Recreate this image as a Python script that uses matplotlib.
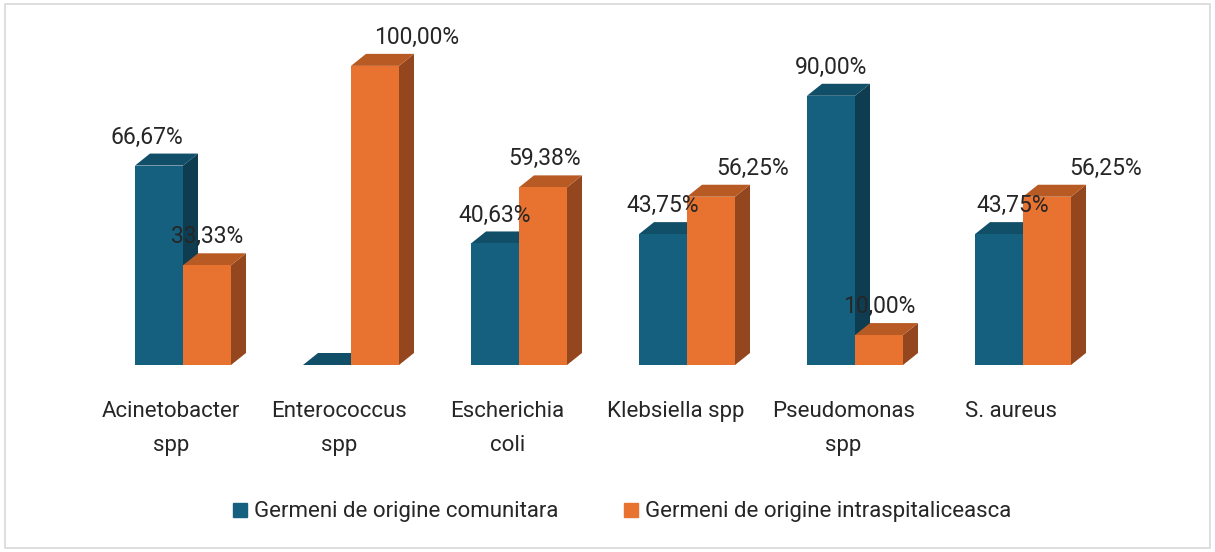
import numpy as np
import matplotlib.pyplot as plt
from matplotlib.patches import Polygon, Rectangle
from matplotlib.lines import Line2D

plt.rcParams['font.family'] = ['Roboto', 'DejaVu Sans']

# date
categories = ['Acinetobacter\nspp', 'Enterococcus\nspp', 'Escherichia\ncoli',
              'Klebsiella spp', 'Pseudomonas\nspp', 'S. aureus']
comunitara = [66.67, 0.0, 40.63, 43.75, 90.00, 43.75]
intraspital = [33.33, 100.00, 59.38, 56.25, 10.00, 56.25]
series_names = ['Germeni de origine comunitara', 'Germeni de origine intraspitaliceasca']

# culori: fata, varf, lateral
blue = ('#15607F', '#114F69', '#0E3C50')
orange = ('#E8722F', '#B85A24', '#94471F')

# deplasari etichete (stil)
lbl_dx_blue = [-0.07, 0, 0, 0, 0, 0.08]
lbl_dx_orange = [0, 0.25, 0.01, 0.25, 0, 0.35]

W, H = 1215, 552
fig = plt.figure(figsize=(W / 100, H / 100), dpi=100)
fig.patches.append(Rectangle((5 / W, 4 / H), 1205 / W, 544 / H, transform=fig.transFigure,
                             fill=False, edgecolor='#D9D9D9', linewidth=1.2))

ax = fig.add_axes([99 / W, (552 - 365) / H, 1008 / W, 344 / H])
ax.set_xlim(-0.5, 5.5)
ax.set_ylim(0, 115)
ax.axis('off')

bw = 48 / 168        # latime bara
ddx = 15 / 168       # adancime x
ddy = 12 / 2.99      # adancime y

x = np.arange(len(categories))


def bar3d(x0, h, cols, label_dx, value):
    front, top, side = cols
    # lateral
    ax.add_patch(Polygon([(x0 + bw, 0), (x0 + bw + ddx, ddy), (x0 + bw + ddx, h + ddy), (x0 + bw, h)],
                         closed=True, facecolor=side, edgecolor='none', zorder=2))
    # varf
    ax.add_patch(Polygon([(x0, h), (x0 + ddx, h + ddy), (x0 + bw + ddx, h + ddy), (x0 + bw, h)],
                         closed=True, facecolor=top, edgecolor='none', zorder=2))
    # fata
    if h > 0:
        ax.bar(x0, h, width=bw, align='edge', color=front, edgecolor='none', zorder=2)
    if value > 0:
        ax.text(x0 + bw / 2 + label_dx, h + ddy + 5.5, f'{value:.2f}%'.replace('.', ','),
                ha='center', va='center', fontsize=16.5, color='#262626', zorder=5, clip_on=False)


for i in range(len(categories)):
    bar3d(x[i] - bw, comunitara[i], blue, lbl_dx_blue[i], comunitara[i])
    bar3d(x[i], intraspital[i], orange, lbl_dx_orange[i], intraspital[i])

for i, c in enumerate(categories):
    ax.text(x[i] - 0.07, -12, c, ha='center', va='top', fontsize=16, color='#262626',
            linespacing=1.85, clip_on=False)

handles = [Line2D([], [], marker='s', linestyle='none', markersize=9.5, color=blue[0]),
           Line2D([], [], marker='s', linestyle='none', markersize=9.5, color=orange[0])]
fig.legend(handles, series_names, loc='center', bbox_to_anchor=(620 / W, (552 - 512) / H),
           ncol=2, frameon=False, fontsize=16, handletextpad=0.1, columnspacing=2.8,
           handlelength=1.0, labelcolor='#262626')

fig.savefig('out.png', dpi=100)
